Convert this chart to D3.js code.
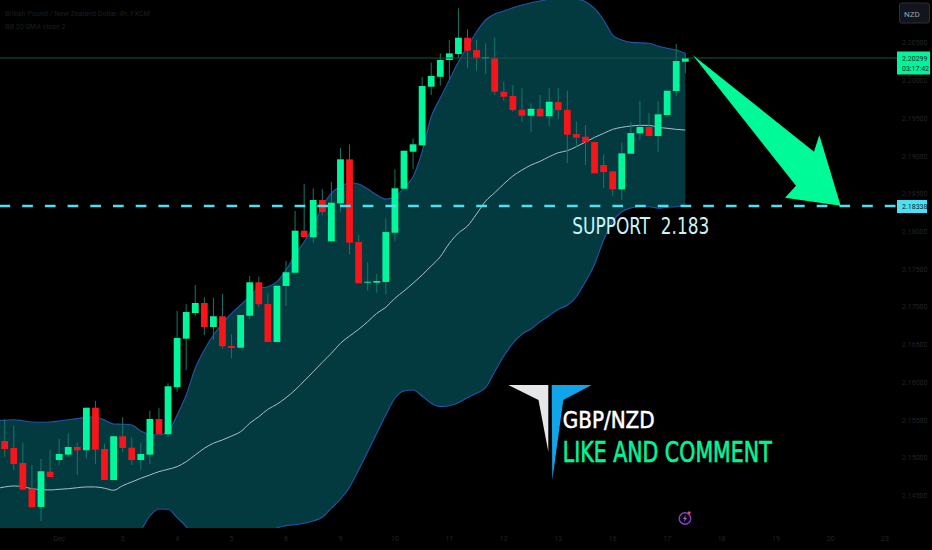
<!DOCTYPE html>
<html><head><meta charset="utf-8">
<script src="https://cdn.jsdelivr.net/npm/d3@7/dist/d3.min.js"></script>
<style>html,body{margin:0;padding:0;background:#000;overflow:hidden}svg{display:block}</style>
</head><body><svg id="c" width="932" height="550"></svg>
<script>
const opens=[2.15224,2.15131,2.14933,2.14592,2.14350,2.14818,2.14972,2.15043,2.15145,2.15101,2.15665,2.15118,2.14707,2.15287,2.15135,2.14972,2.15043,2.15516,2.15313,2.15936,2.16580,2.16920,2.17053,2.16735,2.16877,2.16483,2.16460,2.16884,2.17327,2.17039,2.16536,2.17278,2.17454,2.18011,2.17923,2.18418,2.17870,2.18374,2.18957,2.17861,2.17322,2.17322,2.17331,2.17984,2.18567,2.19057,2.19142,2.19919,2.20051,2.20273,2.20352,2.20568,2.20405,2.20295,2.20303,2.19852,2.19796,2.19614,2.19534,2.19627,2.19527,2.19716,2.19614,2.19292,2.19256,2.19186,2.18881,2.18798,2.18559,2.19031,2.19301,2.19385,2.19266,2.19544,2.19862,2.20250];
const highs=[2.15516,2.15427,2.15202,2.14906,2.14986,2.15105,2.15251,2.15326,2.15202,2.15665,2.15754,2.15181,2.15287,2.15538,2.15273,2.15202,2.15626,2.15658,2.15989,2.16947,2.17036,2.17291,2.17128,2.17123,2.17172,2.16638,2.16894,2.17410,2.17401,2.17181,2.17282,2.17613,2.18272,2.18630,2.18573,2.18563,2.18660,2.19107,2.19156,2.17954,2.17587,2.17437,2.18175,2.18824,2.19071,2.19235,2.20051,2.20237,2.20361,2.20538,2.20958,2.20679,2.20538,2.20494,2.20568,2.19985,2.19941,2.19898,2.19699,2.19809,2.19898,2.19898,2.19866,2.19455,2.19411,2.19186,2.19023,2.18798,2.19177,2.19455,2.19729,2.19574,2.19729,2.19866,2.20485,2.20361];
const lows=[2.15016,2.14840,2.14575,2.14346,2.14164,2.14747,2.14906,2.15016,2.14774,2.14995,2.14919,2.14707,2.14707,2.15075,2.14906,2.14840,2.14919,2.15313,2.15273,2.15878,2.16165,2.16880,2.16629,2.16562,2.16443,2.16320,2.16460,2.16841,2.16996,2.16536,2.16536,2.17013,2.17454,2.17927,2.17852,2.18219,2.17870,2.18262,2.17698,2.17314,2.17216,2.17189,2.17172,2.17878,2.18567,2.18828,2.19142,2.19809,2.19932,2.20008,2.20295,2.20163,2.20131,2.20087,2.19809,2.19733,2.19587,2.19455,2.19315,2.19521,2.19398,2.19487,2.18904,2.19124,2.18881,2.18771,2.18573,2.18471,2.18418,2.19031,2.19213,2.19266,2.19057,2.19544,2.19796,2.20096];
const closes=[2.15118,2.14919,2.14579,2.14346,2.14823,2.14747,2.15052,2.15145,2.15101,2.15665,2.15109,2.14707,2.15287,2.15131,2.14972,2.15052,2.15516,2.15313,2.15949,2.16589,2.16933,2.17053,2.16735,2.16877,2.16479,2.16456,2.16894,2.17327,2.17036,2.16536,2.17282,2.17460,2.18011,2.17927,2.18418,2.18258,2.18382,2.18957,2.17852,2.17314,2.17335,2.17344,2.17993,2.18573,2.19071,2.19156,2.19928,2.20061,2.20273,2.20361,2.20568,2.20396,2.20295,2.20308,2.19852,2.19786,2.19610,2.19534,2.19627,2.19527,2.19720,2.19610,2.19283,2.19243,2.19182,2.18771,2.18788,2.18559,2.19036,2.19305,2.19385,2.19266,2.19553,2.19866,2.20259,2.20299];
// Bollinger bands: the first reading is one bar before the first visible candle
const upperBand=[2.15496,2.15499,2.15506,2.15493,2.15476,2.15472,2.15476,2.15489,2.15506,2.15520,2.15542,2.15542,2.15502,2.15449,2.15446,2.15436,2.15357,2.15313,2.15304,2.15348,2.15569,2.15834,2.16188,2.16430,2.16629,2.16784,2.16916,2.17026,2.17136,2.17248,2.17269,2.17335,2.17490,2.17689,2.17865,2.18064,2.18329,2.18510,2.18594,2.18647,2.18630,2.18563,2.18484,2.18431,2.18461,2.18577,2.18726,2.19057,2.19521,2.19769,2.20008,2.20250,2.20449,2.20647,2.20803,2.20882,2.20922,2.20965,2.21001,2.21032,2.21054,2.21081,2.21094,2.21094,2.21081,2.21045,2.20958,2.20803,2.20604,2.20538,2.20507,2.20502,2.20494,2.20458,2.20428,2.20405,2.20361];
const midBand=[2.14592,2.14615,2.14628,2.14619,2.14592,2.14579,2.14575,2.14584,2.14592,2.14605,2.14615,2.14615,2.14598,2.14571,2.14632,2.14681,2.14730,2.14774,2.14818,2.14849,2.14884,2.14950,2.15039,2.15128,2.15194,2.15238,2.15290,2.15348,2.15459,2.15546,2.15644,2.15711,2.15798,2.15900,2.16019,2.16142,2.16267,2.16386,2.16519,2.16615,2.16704,2.16805,2.16916,2.16996,2.17115,2.17212,2.17314,2.17424,2.17543,2.17666,2.17844,2.17980,2.18073,2.18232,2.18404,2.18514,2.18630,2.18736,2.18815,2.18881,2.18930,2.18991,2.19044,2.19071,2.19124,2.19186,2.19248,2.19301,2.19354,2.19381,2.19398,2.19407,2.19407,2.19381,2.19368,2.19354,2.19345];
const lowerBand=[2.13890,2.13860,2.13830,2.13815,2.13830,2.13850,2.13870,2.13890,2.13905,2.13915,2.13925,2.13935,2.13945,2.13955,2.13970,2.13979,2.14045,2.14230,2.14323,2.14319,2.14208,2.14089,2.13912,2.13714,2.13581,2.13488,2.13449,2.13449,2.13488,2.13581,2.13780,2.14071,2.14102,2.14115,2.14134,2.14164,2.14213,2.14333,2.14452,2.14611,2.14840,2.15082,2.15326,2.15569,2.15790,2.15887,2.15900,2.15820,2.15724,2.15679,2.15692,2.15732,2.15798,2.15856,2.15930,2.16142,2.16350,2.16519,2.16638,2.16708,2.16805,2.16884,2.16969,2.17022,2.17136,2.17335,2.17566,2.17888,2.18130,2.18262,2.18311,2.18329,2.18329,2.18308,2.18321,2.18329,2.18351];
const dateLabels=["Dec","3","4","5","6","9","10","11","12","13","16","17","18","19","20","23"];
const dateBars=[6,13,19,25,31,37,43,49,55,61,67,73,79,85,91,97];
const priceTicks=[2.205,2.2,2.195,2.19,2.185,2.18,2.175,2.17,2.165,2.16,2.155,2.15,2.145];
const lastPrice=2.20299, supportPrice=2.18338;
const countdown="03:17:42", symbolName="British Pound / New Zealand Dollar, 4h, FXCM", indicatorName="BB 20 SMA close 2";
const supportText="SUPPORT  2.183", pairText="GBP/NZD", ctaText="LIKE AND COMMENT", currency="NZD";

const svg=d3.select("#c");
const x=d3.scaleLinear().domain([0,75]).range([4.7,685.3]);
const y=d3.scaleLinear().domain([2.2,2.15]).range([80.6,457.9]);
const bx=(d,i)=>x(i-1);
const UP="#00f79c",DN="#f5151a",WICK="#14776b";
svg.append("defs").append("clipPath").attr("id","pane").append("rect").attr("x",0).attr("y",0).attr("width",895).attr("height",528);
const pane=svg.append("g").attr("clip-path","url(#pane)");
const idx=d3.range(upperBand.length);
pane.append("path").datum(idx).attr("fill","#033a40")
 .attr("d",d3.area().x(i=>bx(0,i)).y0(i=>y(lowerBand[i])).y1(i=>y(upperBand[i])).curve(d3.curveMonotoneX));
const band=(arr,col,w)=>pane.append("path").datum(arr).attr("fill","none").attr("stroke",col).attr("stroke-width",w)
 .attr("d",d3.line().x(bx).y(d=>y(d)).curve(d3.curveMonotoneX));
band(upperBand,"#1f56a8",1.1);band(lowerBand,"#1f56a8",1.1);band(midBand,"#a9c0c2",1);
svg.append("line").attr("x1",0).attr("x2",897).attr("y1",y(lastPrice)).attr("y2",y(lastPrice)).attr("stroke","#1d4f45").attr("stroke-width",1);
svg.append("line").attr("x1",-0.5).attr("x2",897).attr("y1",y(supportPrice)).attr("y2",y(supportPrice)).attr("stroke","#4fdff0").attr("stroke-width",2.4).attr("stroke-dasharray","10.7 12");
const cs=pane.selectAll("g.k").data(opens).join("g");
cs.append("line").attr("x1",(d,i)=>x(i)).attr("x2",(d,i)=>x(i)).attr("y1",(d,i)=>y(highs[i])).attr("y2",(d,i)=>y(lows[i])).attr("stroke",WICK).attr("stroke-width",1);
cs.append("rect").attr("x",(d,i)=>x(i)-3.4).attr("width",6.8)
 .attr("y",(d,i)=>y(Math.max(d,closes[i]))).attr("height",(d,i)=>Math.max(1,Math.abs(y(d)-y(closes[i]))))
 .attr("fill",(d,i)=>closes[i]>=d?UP:DN);
// arrow
svg.append("polygon").attr("fill","#00fa98").attr("points","692.7,55 814,151.7 819.3,135 840.7,205.7 785,197.7 796,185.7");
// annotations
const F="'DejaVu Sans Condensed','DejaVu Sans',sans-serif";
const T=(s,xx,yy,fs,col,len,sw)=>{const t=svg.append("text").attr("x",xx).attr("y",yy).attr("font-family",F).attr("font-size",fs).attr("fill",col).style("white-space","pre").text(s);if(len)t.attr("textLength",len).attr("lengthAdjust","spacingAndGlyphs");if(sw)t.attr("stroke",col).attr("stroke-width",sw);return t;};
T(supportText,572.3,234.3,23,"#c9f3f7",137);
svg.append("polygon").attr("fill","#e6e7e8").attr("points","508.3,385 548.3,385 548.3,451.7 538.5,400");
svg.append("polygon").attr("fill","#12a4e8").attr("points","551.7,385 591.7,385 563.3,400 552.3,480");
T(pairText,562.7,428.3,23,"#ffffff",92,0.5);
T(ctaText,562.7,461.7,29,"#00f59b",209,0.6);
// right axis
const axG=svg.append("g").attr("font-family","Roboto, sans-serif").attr("font-size",7).attr("fill","#232323");
axG.selectAll("text.p").data(priceTicks).join("text").attr("x",902).attr("y",d=>y(d)+2.5).text(d=>d.toFixed(5));
// bottom axis
axG.selectAll("text.d").data(dateLabels).join("text").attr("text-anchor","middle").attr("x",(d,i)=>x(dateBars[i])).attr("y",541).text(d=>d);
// legend
const lg=svg.append("g").attr("font-family","Roboto, sans-serif").attr("font-size",7.2).attr("fill","#1e1e1e");
lg.append("text").attr("x",5).attr("y",16).text(symbolName);
lg.append("text").attr("x",5).attr("y",29).text(indicatorName);
// currency button
svg.append("rect").attr("x",899.5).attr("y",3).attr("width",30).attr("height",20).attr("rx",2).attr("fill","#12151b").attr("stroke","#2b2f36");
svg.append("text").attr("x",904).attr("y",16.5).attr("font-family","Roboto, sans-serif").attr("font-size",8).attr("fill","#9aa0a6").text(currency);
// price tags
svg.append("rect").attr("x",897).attr("y",51.5).attr("width",33).attr("height",23).attr("fill","#00f59b");
svg.append("text").attr("x",902).attr("y",60.5).attr("font-family","Roboto, sans-serif").attr("font-size",7).attr("fill","#06241c").text(lastPrice.toFixed(5));
svg.append("text").attr("x",902).attr("y",71).attr("font-family","Roboto, sans-serif").attr("font-size",7).attr("fill","#06241c").text(countdown);
svg.append("rect").attr("x",897).attr("y",200).attr("width",30).attr("height",13).attr("fill","#4fdff5");
svg.append("text").attr("x",902).attr("y",209).attr("font-family","Roboto, sans-serif").attr("font-size",7).attr("fill","#06241c").text(supportPrice.toFixed(5));
// lightning badge
const b=svg.append("g").attr("transform","translate(685,518.5)");
b.append("circle").attr("r",5.8).attr("fill","#0a0610").attr("stroke","#8a3fc0").attr("stroke-width",1.4);
b.append("path").attr("d","M1,-3.5L-2,0.5L-0.2,0.5L-1,3.5L2,-0.5L0.2,-0.5Z").attr("fill","#a860d8");
b.append("circle").attr("cx",4.2).attr("cy",-5.8).attr("r",1.5).attr("fill","#f0455a");
</script></body></html>
